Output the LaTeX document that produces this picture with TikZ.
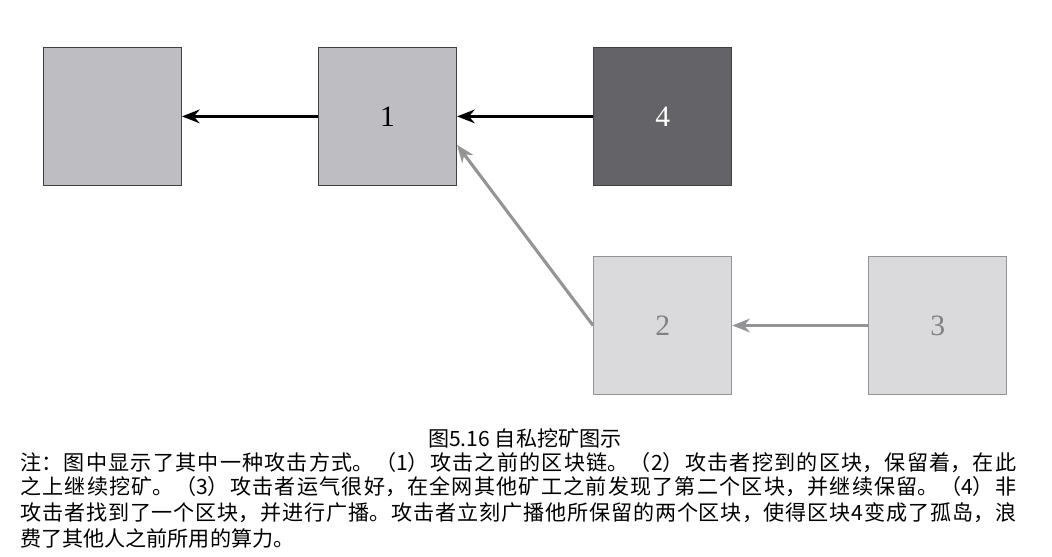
\documentclass[tikz,border=0pt]{standalone}
\usepackage{fontspec}
\setmainfont{Liberation Serif}
\newfontfamily\cjk{Noto Sans CJK SC}
\usetikzlibrary{arrows.meta, positioning, calc}
\definecolor{blkmid}{RGB}{190,190,194}
\definecolor{blkdark}{RGB}{100,100,104}
\definecolor{blklight}{RGB}{218,218,221}
\definecolor{edgegray}{RGB}{148,148,150}
\XeTeXlinebreaklocale "zh"
\XeTeXlinebreakskip = 0pt plus 2pt
\newcommand{\notestrut}{\rule[-0.17cm]{0pt}{0.58cm}}

\begin{document}
\begin{tikzpicture}[
  block/.style={rectangle, draw=black!75, line width=0.8pt, fill=blkmid,
                minimum size=3.45cm, inner sep=0pt,
                font=\fontsize{21}{24}\selectfont},
  hidden/.style={block, draw=edgegray, fill=blklight, text=black!50},
  honest/.style={block, fill=blkdark, text=white},
  chainarr/.style={-{Stealth[length=0.44cm, width=0.34cm]}, line width=2.2pt},
  privarr/.style={chainarr, edgegray},
  caption/.style={font=\cjk\fontsize{15}{17}\selectfont},
  node distance=1.75cm and 3.4cm
]
\useasboundingbox (0,0) rectangle (26.3,-13.925);

\node[block] (n0) at (2.81,-2.91) {};
\node[block, right=of n0] (n1) {1};
\node[honest, right=of n1] (n4) {4};
\node[hidden, below=of n4] (n2) {2};
\node[hidden, right=of n2] (n3) {3};

% published chain
\draw[chainarr] (n1.west) -- (n0.east);
\draw[chainarr] (n4.west) -- (n1.east);

% withheld blocks
\draw[privarr] (n3.west) -- (n2.east);
\draw[privarr] (n2.west) -- ($(n1.east)!0.41!(n1.south east)$);

\node[caption] (cap) at (13.12,-10.95) {图5.16 自私挖矿图示};
\node[caption, anchor=north west, text width=24.9cm, align=justify,
      inner sep=0pt] (note) at (0.5,-11.3)
  {注：图中显示了其中一种攻击方式。（1）攻击之前的区块链。（2）攻击者挖到的区块，保留着，在此\linebreak
   \notestrut 之上继续挖矿。（3）攻击者运气很好，在全网其他矿工之前发现了第二个区块，并继续保留。（4）非\linebreak
   \notestrut 攻击者找到了一个区块，并进行广播。攻击者立刻广播他所保留的两个区块，使得区块4变成了孤岛，浪\linebreak
   \notestrut 费了其他人之前所用的算力。};
\end{tikzpicture}
\end{document}
